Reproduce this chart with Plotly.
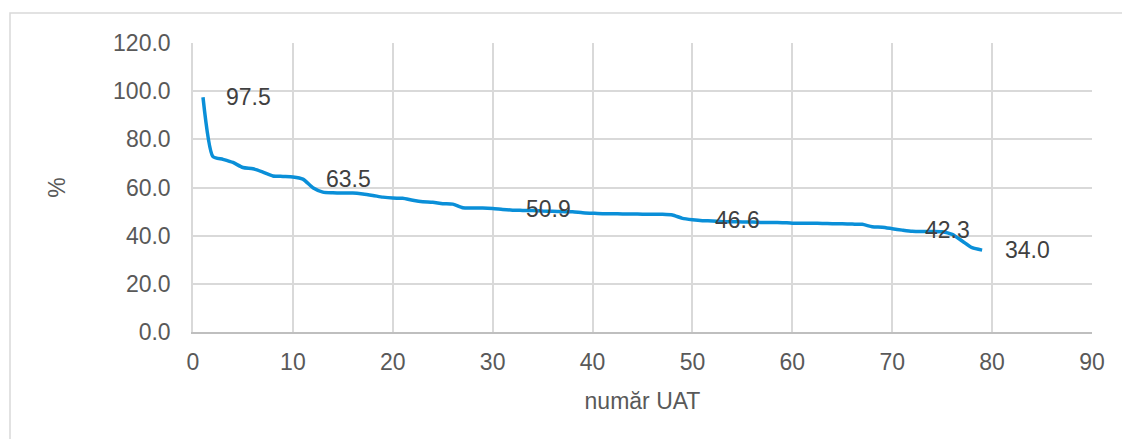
import plotly.graph_objects as go

x_vals = list(range(1, 80))
y_vals = [
    97.5, 72.8, 71.7, 70.4, 68.3, 67.8, 66.4, 64.8, 64.6, 64.4,
    63.5, 59.9, 58.1, 57.8, 57.7, 57.7, 57.3, 56.7, 56.0, 55.6,
    55.5, 54.7, 54.1, 53.9, 53.3, 53.1, 51.6, 51.5, 51.5, 51.3,
    50.9, 50.6, 50.5, 50.4, 50.2, 50.1, 50.0, 49.9, 49.5, 49.3,
    49.1, 49.1, 49.0, 49.0, 48.9, 48.9, 48.9, 48.6, 47.2, 46.6,
    46.2, 46.1, 45.8, 45.8, 45.7, 45.7, 45.5, 45.5, 45.4, 45.2,
    45.2, 45.2, 45.1, 45.0, 44.9, 44.8, 44.7, 43.7, 43.5, 42.9,
    42.3, 41.8, 41.7, 41.7, 41.6, 40.5, 37.8, 35.0, 34.0,
]
label_x = [1, 11, 31, 50, 71, 79]
label_text = ["97.5", "63.5", "50.9", "46.6", "42.3", "34.0"]

x_ticks = list(range(0, 91, 10))
y_ticks = list(range(0, 121, 20))

fig = go.Figure()
fig.add_trace(go.Scatter(
    x=x_vals, y=y_vals, mode="lines",
    line=dict(color="#0A8FD8", width=3.5, shape="spline", smoothing=0.6),
    hoverinfo="skip", showlegend=False,
))

for lx, lt in zip(label_x, label_text):
    fig.add_annotation(
        x=lx, y=y_vals[x_vals.index(lx)], text=lt, showarrow=False,
        xanchor="left", yanchor="middle", xshift=21,
        font=dict(family="Liberation Sans, Arial", size=23, color="#404040"),
    )

# outer chart border
fig.add_shape(type="rect", xref="paper", yref="paper",
              x0=(10 - 193) / 899, x1=(1130 - 193) / 899,
              y0=(332 - 450) / 289, y1=(332 - 13) / 289,
              line=dict(color="#D9D9D9", width=1.5), fillcolor="rgba(0,0,0,0)",
              layer="below")

font_ax = dict(family="Liberation Sans, Arial", size=23, color="#595959")

fig.update_layout(
    width=1122, height=439,
    margin=dict(l=193, r=30, t=43, b=107),
    paper_bgcolor="white", plot_bgcolor="white",
    font=font_ax,
    xaxis=dict(
        range=[0, 90], tickvals=x_ticks, ticktext=[str(v) for v in x_ticks],
        showgrid=True, gridcolor="#D9D9D9", gridwidth=1.5,
        zeroline=False, showline=True, linecolor="#BFBFBF", linewidth=1.5,
        ticks="", tickfont=font_ax, ticklabelstandoff=9,
        title=dict(text="număr UAT", font=font_ax, standoff=19),
    ),
    yaxis=dict(
        range=[0, 120], tickvals=y_ticks, ticktext=[f"{v:.1f}" for v in y_ticks],
        showgrid=True, gridcolor="#D9D9D9", gridwidth=1.5,
        zeroline=False, showline=True, linecolor="#D9D9D9", linewidth=1.5,
        ticks="", tickfont=font_ax, ticklabelstandoff=16,
        title=dict(text="%", font=font_ax, standoff=41),
    ),
)

fig.write_html(
    "out.html",
    config={"displayModeBar": False},
    post_script="document.body.style.margin='0';document.body.style.overflow='hidden';",
)
